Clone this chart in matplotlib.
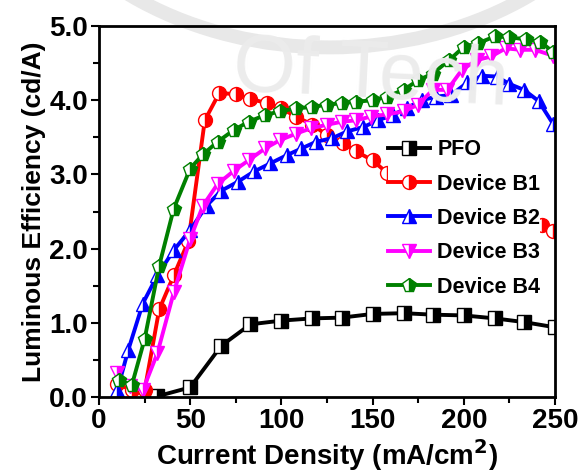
import matplotlib
matplotlib.use("Agg")
from matplotlib import pyplot as plt
from matplotlib.ticker import MultipleLocator, FormatStrFormatter
from matplotlib.patches import Arc

plt.rcParams['font.family'] = ['Liberation Sans', 'DejaVu Sans']
plt.rcParams['font.weight'] = 'bold'
plt.rcParams['mathtext.default'] = 'bf'

# PFO
pfo_x = [32, 50, 67, 83, 100, 117, 133, 150, 167, 183, 200, 217, 233, 250]
pfo_y = [0.01, 0.13, 0.69, 0.98, 1.03, 1.06, 1.07, 1.12, 1.13, 1.11, 1.10, 1.06, 1.01, 0.94]

# Device B1
b1_x = [10, 18, 25, 33, 41, 49, 58, 66, 75, 83, 92, 100, 108, 117, 125, 134, 141, 150, 158,
        166, 174, 183, 191, 199, 207, 216, 224, 232, 243, 249]
b1_y = [0.18, 0.09, 0.09, 1.18, 1.64, 2.10, 3.73, 4.10, 4.08, 4.02, 3.96, 3.89, 3.78, 3.67,
        3.53, 3.42, 3.31, 3.19, 3.02, 2.90, 2.81, 2.73, 2.66, 2.59, 2.53, 2.48, 2.43, 2.39,
        2.32, 2.24]

# Device B2
b2_x = [10, 16, 24, 32, 41, 50, 59, 67, 76, 85, 94, 103, 111, 119, 128, 136, 145, 153,
        161, 169, 177, 185, 193, 202, 210, 218, 225, 233, 241, 249]
b2_y = [0.09, 0.63, 1.26, 1.64, 1.98, 2.25, 2.58, 2.78, 2.90, 3.04, 3.15, 3.26, 3.35,
        3.44, 3.49, 3.58, 3.64, 3.73, 3.80, 3.90, 4.00, 4.05, 4.07, 4.24, 4.33, 4.32,
        4.22, 4.14, 3.99, 3.68]

# Device B3
b3_x = [10, 17, 24, 32, 41, 50, 57, 65, 74, 82, 91, 99, 108, 116, 125, 133, 141, 149,
        158, 167, 175, 183, 191, 199, 207, 215, 223, 231, 239, 249]
b3_y = [0.33, 0.15, 0.09, 0.59, 1.41, 2.13, 2.58, 2.87, 3.05, 3.19, 3.35, 3.46, 3.55,
        3.62, 3.67, 3.71, 3.73, 3.78, 3.81, 3.85, 3.94, 4.14, 4.14, 4.41, 4.54, 4.59,
        4.70, 4.68, 4.68, 4.60]

# Device B4
b4_x = [11, 18, 25, 33, 41, 50, 57, 65, 74, 82, 91, 99, 108, 117, 125, 133, 141, 150,
        158, 167, 175, 183, 192, 200, 208, 217, 225, 234, 242, 249]
b4_y = [0.23, 0.16, 0.78, 1.77, 2.54, 3.08, 3.27, 3.44, 3.60, 3.71, 3.80, 3.85, 3.89,
        3.91, 3.94, 3.96, 3.98, 4.00, 4.05, 4.14, 4.27, 4.36, 4.54, 4.72, 4.77, 4.86,
        4.85, 4.82, 4.79, 4.65]

series = [
    (pfo_x, pfo_y, 'black', 's', 'PFO'),
    (b1_x, b1_y, 'red', 'o', 'Device B1'),
    (b2_x, b2_y, 'blue', '^', 'Device B2'),
    (b3_x, b3_y, 'magenta', 'v', 'Device B3'),
    (b4_x, b4_y, 'green', 'p', 'Device B4'),
]

fig = plt.figure(figsize=(5.79, 4.74), dpi=100)
ax = fig.add_axes([0.171, 0.1624, 0.7875, 0.7826])

# faint watermark in the background
fig.text(0.64, 0.84, 'Of Tech', fontsize=58, color='#ececec', fontweight='normal',
         ha='center', va='center', rotation=-3, zorder=0)
arc = Arc((0.57, 1.45), 1.15, 1.1, theta1=200, theta2=340, transform=fig.transFigure,
          color='#e8e8e8', lw=10, zorder=0)
fig.add_artist(arc)
ax.patch.set_alpha(0)

for x, y, c, m, lab in series:
    ax.plot(x, y, color=c, lw=2.8, marker=m, markersize=10, fillstyle='right',
            markerfacecolor=c, markerfacecoloralt='white', markeredgecolor=c,
            markeredgewidth=1.0, label=lab)

ax.set_xlim(0, 250)
ax.set_ylim(0, 5.0)
ax.xaxis.set_major_locator(MultipleLocator(50))
ax.xaxis.set_minor_locator(MultipleLocator(25))
ax.yaxis.set_major_locator(MultipleLocator(1.0))
ax.yaxis.set_minor_locator(MultipleLocator(0.5))
ax.yaxis.set_major_formatter(FormatStrFormatter('%.1f'))
ax.tick_params(which='both', direction='out', width=1.5, labelsize=20, top=False, right=False)
ax.tick_params(which='major', length=6, pad=2)
ax.tick_params(which='minor', length=4)
for s in ax.spines.values():
    s.set_linewidth(2)

ax.set_xlabel(r'Current Density (mA/cm$^{\mathbf{2}}$)', fontsize=20, fontweight='bold', labelpad=2)
ax.set_ylabel('Luminous Efficiency (cd/A)', fontsize=19, fontweight='bold', labelpad=2)

leg = ax.legend(loc='upper left', bbox_to_anchor=(0.634, 0.695), fontsize=15.5, frameon=True,
                edgecolor='none', facecolor='white', framealpha=1, handlelength=1.95,
                handletextpad=0.33, labelspacing=0.62, borderpad=0.0, borderaxespad=0)

plt.savefig('out.png', dpi=100)
plt.close()
